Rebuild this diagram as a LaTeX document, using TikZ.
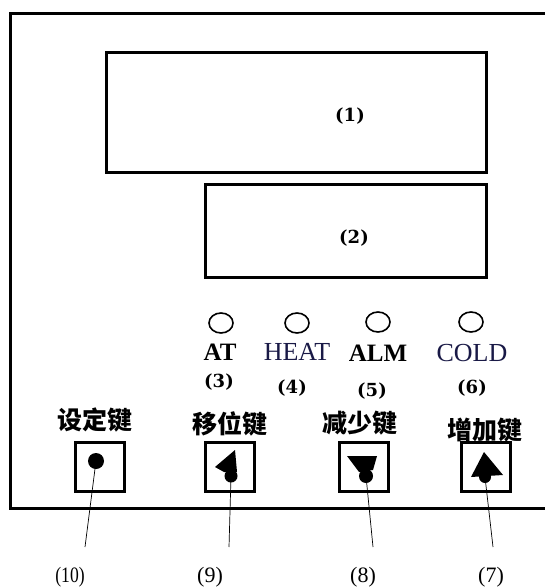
\documentclass[tikz,border=0pt]{standalone}
\usepackage{fontspec}
\usetikzlibrary{shapes.geometric}
\setmainfont{Liberation Serif}
\newfontfamily\cjk{Noto Sans CJK SC}
\newfontfamily\numf{DejaVu Serif}
\definecolor{navyink}{RGB}{25,25,70}
\begin{document}
\begin{tikzpicture}[x=1pt,y=-1pt,
  frame/.style={line width=3pt},
  panel/.style={draw,line width=3pt,minimum width=49pt,minimum height=49pt,inner sep=0pt},
  keylbl/.style={font=\cjk\bfseries\fontsize{25}{25}\selectfont,inner sep=0pt},
  numlbl/.style={font=\numf\bfseries\fontsize{18}{18}\selectfont,inner sep=0pt},
  ledlbl/.style={font=\fontsize{26}{26}\selectfont,inner sep=0pt},
  led/.style={draw,line width=1.6pt,ellipse,minimum width=24pt,minimum height=20pt,inner sep=0pt},
  callout/.style={font=\fontsize{22}{22}\selectfont,inner sep=0pt},
  lead/.style={line width=0.7pt},
  glyph/.style={fill=black}]
\useasboundingbox (0,0) rectangle (544,588);
% outer frame (open to the right)
\draw[frame] (546,13.5) -- (10,13.5) -- (10,508) -- (546,508);
% displays
\node[draw,line width=3pt,minimum width=380pt,minimum height=119pt,inner sep=0pt] (d1) at (296,112.5) {};
\node[numlbl] (n1) at (350,116) {(1)};
\node[draw,line width=3pt,minimum width=281pt,minimum height=93pt,inner sep=0pt] (d2) at (345.5,230.5) {};
\node[numlbl] (n2) at (354,238) {(2)};
% LEDs
\node[led] (l3) at (221,323) {};
\node[led] (l4) at (297,323) {};
\node[led] (l5) at (378,322) {};
\node[led] (l6) at (471,322) {};
\node[ledlbl,font=\bfseries\fontsize{25}{25}\selectfont] (t3) at (220,352) {AT};
\node[ledlbl,text=navyink] (t4) at (297,352) {HEAT};
\node[ledlbl,font=\bfseries\fontsize{25}{25}\selectfont] (t5) at (378,353) {ALM};
\node[ledlbl,text=navyink] (t6) at (472,353) {COLD};
\node[numlbl] (n3) at (219,382) {(3)};
\node[numlbl] (n4) at (292,388) {(4)};
\node[numlbl] (n5) at (372,391) {(5)};
\node[numlbl] (n6) at (472,388) {(6)};
% key captions
\node[keylbl] (k10) at (95,420) {设定键};
\node[keylbl] (k9) at (230,424) {移位键};
\node[keylbl] (k8) at (360,423) {减少键};
\node[keylbl] (k7) at (485,430) {增加键};
% key boxes
\node[panel] (b10) at (99.5,466.5) {};
\node[panel] (b9) at (229.5,466.5) {};
\node[panel] (b8) at (364,466.5) {};
\node[panel] (b7) at (486,466.5) {};
% key glyphs
\fill[glyph] (96,461) circle (8);
\coordinate (s10) at (96,461);
\fill[glyph] (235,450) -- (215,467) -- (224,472) -- (237,472) -- cycle;
\fill[glyph] (231,476) circle (6.5);
\coordinate (s9) at (231,476);
\fill[glyph] (347,456) -- (377,456) -- (373,470) -- (359,472) -- cycle;
\fill[glyph] (366,476) circle (7);
\coordinate (s8) at (366,476);
\fill[glyph] (484,452) -- (503,475) -- (471,477) -- cycle;
\fill[glyph] (485,477) circle (6);
\coordinate (s7) at (485,477);
% leader ends and labels
\coordinate (e10) at (85,547);
\coordinate (e9) at (229,547);
\coordinate (e8) at (373,547);
\coordinate (e7) at (493,547);
\draw[lead] (s10) -- (e10);
\draw[lead] (s9) -- (e9);
\draw[lead] (s8) -- (e8);
\draw[lead] (s7) -- (e7);
\node[callout] (c10) at (70,577) {\scalebox{0.8}[1]{(10)}};
\node[callout] (c9) at (210,577) {(9)};
\node[callout] (c8) at (363,577) {(8)};
\node[callout] (c7) at (491,577) {(7)};
\end{tikzpicture}
\end{document}
